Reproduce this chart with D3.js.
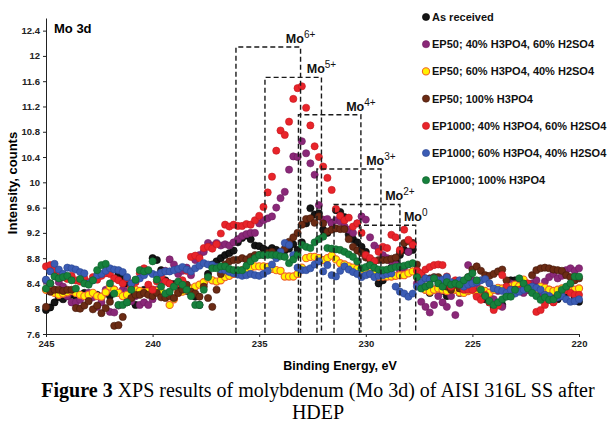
<!DOCTYPE html>
<html lang="en">
<head>
<meta charset="UTF-8">
<title>Mo 3d XPS</title>
<script src="https://cdn.jsdelivr.net/npm/d3@7"></script>
<style>
    body { margin: 0; background: #fff; }
    svg { display: block; font-family: "Liberation Sans", Arial, sans-serif; }
    .axis text { font-size: 9.5px; font-weight: bold; fill: #222; }
    .axis path, .axis line { stroke: #222; }
    .legend text { font-size: 11px; font-weight: bold; fill: #111; }
    .caption { font-family: "Liberation Serif", "Times New Roman", serif; font-size: 20px; fill: #000; }
</style>
</head>
<body>
<div id="chart"></div>
<script>
// spectra sampled every 0.2 eV from 245 eV down to 220 eV
const eStart = 245, eStep = 0.2;

const asReceived = [
    7.98, 8.02, 8.10, 8.18, 8.15, 8.20, 8.22, 8.20, 8.22, 8.25,
    8.24, 8.20, 8.22, 8.18, 8.25, 8.20, 8.30, 8.54, 8.50, 8.40,
    8.20, 8.06, 8.25, 8.30, 8.28, 8.80, 8.77, 8.61, 8.45, 8.40,
    8.39, 8.35, 8.30, 8.28, 8.25, 8.19, 8.06, 8.40, 8.55, 8.70,
    8.75, 8.80, 8.85, 8.88, 8.92, 9.05, 9.12, 9.16, 9.10, 9.00,
    8.99, 8.95, 8.92, 8.96, 8.93, 8.90, 8.92, 8.95, 9.02, 8.93,
    9.05, 9.35, 9.59, 9.49, 9.51, 9.25, 9.20, 9.36, 9.56, 9.53,
    9.45, 9.17, 9.10, 9.05, 8.98, 8.90, 8.70, 8.55, 8.40, 8.45,
    8.55, 8.65, 8.75, 8.85, 8.93, 8.90, 8.93, 8.60, 8.40, 8.30,
    8.25, 8.30, 8.35, 8.28, 8.20, 8.30, 8.35, 8.25, 8.30, 8.40,
    8.35, 8.30, 8.20, 8.15, 8.10, 8.02, 8.30, 8.06, 8.20, 8.45,
    8.45, 8.40, 8.35, 8.30, 8.38, 8.35, 8.30, 8.25, 8.30, 8.20,
    8.15, 8.20, 8.25, 8.30, 8.18, 8.11
];
const ep50_40_60 = [
    8.45, 8.40, 8.30, 8.42, 8.35, 8.20, 8.10, 8.10, 8.14, 8.20,
    8.25, 8.18, 8.03, 8.10, 8.30, 7.95, 7.94, 8.05, 8.30, 8.28,
    8.12, 8.20, 8.06, 8.10, 8.06, 8.15, 8.30, 8.45, 8.60, 8.78,
    8.70, 8.55, 8.60, 8.65, 8.53, 8.77, 8.85, 8.90, 9.04, 9.00,
    9.04, 9.00, 9.02, 9.00, 9.05, 9.10, 9.15, 9.18, 9.20, 9.20,
    9.35, 9.40, 9.43, 9.46, 9.60, 9.75, 9.85, 10.20, 10.41, 10.40,
    10.65, 10.46, 10.30, 10.12, 9.64, 9.41, 9.42, 9.35, 9.40, 9.38,
    9.30, 9.25, 9.20, 9.35, 9.46, 9.41, 9.13, 9.00, 8.95, 8.85,
    8.80, 8.75, 8.70, 8.60, 8.65, 8.90, 9.04, 8.40, 8.11, 8.03,
    7.94, 8.06, 8.20, 8.10, 8.03, 8.20, 7.90, 8.09, 8.40, 8.69,
    8.45, 8.38, 8.30, 8.25, 8.20, 8.15, 8.28, 8.03, 8.35, 8.40,
    8.30, 8.38, 8.25, 8.30, 8.40, 8.45, 8.24, 8.43, 8.50, 8.55,
    8.48, 8.52, 8.61, 8.64, 8.60, 8.64
];
const ep50_60_40 = [
    8.30, 8.28, 8.25, 8.22, 8.24, 8.26, 8.28, 8.25, 8.22, 8.20,
    8.22, 8.25, 8.20, 8.19, 8.26, 8.35, 8.30, 8.25, 8.20, 8.22,
    8.32, 8.30, 8.28, 8.26, 8.28, 8.30, 8.28, 8.27, 8.20, 8.06,
    8.15, 8.25, 8.27, 8.30, 8.32, 8.35, 8.38, 8.42, 8.48, 8.45,
    8.43, 8.45, 8.50, 8.52, 8.55, 8.58, 8.61, 8.62, 8.65, 8.67,
    8.67, 8.67, 8.66, 8.63, 8.61, 8.60, 8.51, 8.51, 8.51, 8.55,
    8.65, 8.80, 8.82, 8.82, 8.80, 8.77, 8.80, 8.84, 8.78, 8.72,
    8.70, 8.67, 8.65, 8.63, 8.61, 8.58, 8.56, 8.54, 8.51, 8.51,
    8.51, 8.51, 8.52, 8.53, 8.53, 8.56, 8.59, 8.50, 8.40, 8.30,
    8.27, 8.30, 8.32, 8.30, 8.28, 8.32, 8.30, 8.26, 8.25, 8.28,
    8.30, 8.22, 8.30, 8.28, 8.25, 8.30, 8.33, 8.32, 8.28, 8.35,
    8.38, 8.36, 8.46, 8.35, 8.32, 8.30, 8.35, 8.33, 8.30, 8.28,
    8.30, 8.32, 8.30, 8.28, 8.30, 8.32
];
const ep50_100 = [
    8.03, 8.27, 8.30, 8.30, 8.28, 8.30, 8.30, 8.01, 8.00, 8.05,
    8.12, 7.99, 8.05, 7.93, 8.01, 8.11, 7.73, 7.74, 7.87, 8.10,
    8.17, 8.22, 8.22, 8.25, 8.22, 8.20, 8.25, 8.18, 8.17, 8.20,
    8.17, 8.25, 8.30, 8.38, 8.27, 8.24, 8.19, 8.35, 8.17, 8.03,
    8.30, 8.55, 8.70, 8.75, 8.77, 8.77, 8.80, 8.78, 8.82, 8.85,
    8.85, 8.85, 8.88, 8.90, 8.82, 8.85, 8.95, 9.06, 9.13, 9.20,
    9.33, 9.42, 9.43, 9.36, 9.46, 9.35, 9.22, 9.25, 9.27, 9.26,
    9.26, 9.10, 8.98, 8.92, 8.88, 8.81, 8.78, 8.75, 8.77, 8.77,
    8.77, 8.79, 8.81, 8.90, 9.04, 9.07, 9.04, 8.70, 8.55, 8.48,
    8.48, 8.50, 8.50, 8.45, 8.35, 8.30, 8.38, 8.32, 8.40, 8.50,
    8.62, 8.67, 8.60, 8.53, 8.52, 8.55, 8.59, 8.62, 8.45, 8.30,
    8.30, 8.28, 8.35, 8.38, 8.53, 8.61, 8.64, 8.65, 8.64, 8.62,
    8.61, 8.60, 8.53, 8.50, 8.45, 8.48
];
const ep1000_40_60 = [
    8.67, 8.69, 8.62, 8.55, 8.50, 8.47, 8.52, 8.45, 8.43, 8.48,
    8.42, 8.50, 8.46, 8.52, 8.56, 8.55, 8.48, 8.45, 8.40, 8.48,
    8.35, 8.42, 8.56, 8.64, 8.38, 8.30, 8.43, 8.51, 8.43, 8.40,
    8.35, 8.40, 8.45, 8.60, 8.82, 8.84, 8.80, 8.96, 8.98, 8.95,
    9.02, 9.19, 9.33, 9.30, 9.33, 9.31, 9.31, 9.34, 9.33, 9.40,
    9.47, 9.61, 9.84, 10.09, 10.50, 10.82, 10.75, 10.96, 11.32, 11.49,
    11.52, 11.18, 10.90, 10.57, 10.40, 10.25, 10.07, 9.88, 9.58, 9.47,
    9.40, 9.44, 9.30, 9.35, 9.20, 8.85, 8.80, 8.75, 8.90, 8.98,
    8.96, 9.17, 9.13, 8.93, 9.25, 9.09, 9.01, 8.60, 8.56, 8.62,
    8.66, 8.69, 8.70, 8.69, 8.51, 8.35, 8.45, 8.38, 8.30, 8.30,
    8.30, 8.19, 8.14, 8.22, 8.10, 7.98, 8.05, 8.53, 8.35, 8.30,
    8.30, 8.30, 8.35, 8.40, 8.30, 7.95, 7.98, 8.06, 8.14, 8.10,
    8.20, 8.27, 8.30, 8.25, 8.22, 8.22
];
const ep1000_60_40 = [
    8.46, 8.59, 8.71, 8.62, 8.55, 8.65, 8.64, 8.62, 8.58, 8.56,
    8.40, 8.45, 8.53, 8.55, 8.60, 8.64, 8.62, 8.61, 8.58, 8.50,
    8.40, 8.45, 8.48, 8.53, 8.59, 8.55, 8.53, 8.57, 8.59, 8.59,
    8.61, 8.63, 8.66, 8.62, 8.59, 8.64, 8.68, 8.72, 8.70, 8.69,
    8.66, 8.62, 8.61, 8.58, 8.56, 8.54, 8.52, 8.53, 8.55, 8.53,
    8.52, 8.55, 8.60, 8.70, 8.80, 8.90, 9.04, 9.01, 8.85, 8.65,
    8.61, 8.61, 8.64, 8.70, 8.75, 8.59, 8.69, 8.53, 8.51, 8.60,
    8.67, 8.62, 8.58, 8.55, 8.50, 8.53, 8.55, 8.50, 8.52, 8.53,
    8.55, 8.56, 8.35, 8.27, 8.24, 8.19, 8.24, 8.35, 8.42, 8.48,
    8.46, 8.48, 8.45, 8.46, 8.50, 8.42, 8.40, 8.45, 8.35, 8.38,
    8.40, 8.42, 8.45, 8.47, 8.40, 8.32, 8.30, 8.28, 8.25, 8.30,
    8.24, 8.27, 8.30, 8.33, 8.35, 8.33, 8.30, 8.22, 8.20, 8.15,
    8.18, 8.20, 8.15, 8.11, 8.12, 8.15
];
const ep1000_100 = [
    8.32, 8.40, 8.51, 8.48, 8.50, 8.52, 8.45, 8.32, 8.47, 8.40,
    8.38, 8.45, 8.61, 8.69, 8.71, 8.40, 8.24, 8.06, 8.06, 8.10,
    8.30, 8.46, 8.61, 8.59, 8.61, 8.75, 8.46, 8.35, 8.24, 8.27,
    8.35, 8.43, 8.38, 8.30, 8.20, 8.06, 8.06, 8.30, 8.50, 8.64,
    8.64, 8.67, 8.67, 8.63, 8.61, 8.61, 8.61, 8.68, 8.75, 8.80,
    8.85, 8.85, 8.85, 8.85, 8.85, 8.83, 8.82, 8.72, 8.78, 8.85,
    9.01, 8.98, 8.96, 9.05, 9.10, 9.14, 8.96, 8.95, 8.94, 8.93,
    8.90, 8.86, 8.82, 8.75, 8.64, 8.66, 8.69, 8.65, 8.62, 8.61,
    8.62, 8.64, 8.66, 8.67, 8.68, 8.70, 8.72, 8.50, 8.32, 8.35,
    8.38, 8.48, 8.40, 8.35, 8.42, 8.38, 8.40, 8.38, 8.45, 8.50,
    8.56, 8.45, 8.30, 8.20, 8.12, 8.06, 8.10, 8.15, 8.19, 8.19,
    8.30, 8.48, 8.40, 8.32, 8.25, 8.20, 8.14, 8.18, 8.14, 8.15,
    8.22, 8.30, 8.35, 8.40, 8.51, 8.51
];

const seriesNames = [
    "As received",
    "EP50; 40% H3PO4, 60% H2SO4",
    "EP50; 60% H3PO4, 40% H2SO4",
    "EP50; 100% H3PO4",
    "EP1000; 40% H3PO4, 60% H2SO4",
    "EP1000; 60% H3PO4, 40% H2SO4",
    "EP1000; 100% H3PO4"
];
const seriesValues = [asReceived, ep50_40_60, ep50_60_40, ep50_100, ep1000_40_60, ep1000_60_40, ep1000_100];
const fills = ["#151515", "#8a2878", "#fff200", "#6b2b14", "#e8242a", "#3b5cb4", "#16803c"];
const strokes = ["#000000", "#6e1d5f", "#f0642a", "#43180a", "#c4161c", "#2a4590", "#0d5f2b"];

// oxidation state windows (eV) and the height of each dashed box
const states = ["6+", "5+", "4+", "3+", "2+", "0"];
const boxLeft = [236.09, 234.73, 233.16, 232.29, 231.49, 230.30];
const boxRight = [233.06, 232.08, 230.23, 229.29, 228.40, 227.66];
const boxTop = [12.14, 11.66, 11.07, 10.21, 9.65, 9.32];

const xTicks = [245, 240, 235, 230, 225, 220];
const yTicks = [7.6, 8, 8.4, 8.8, 9.2, 9.6, 10, 10.4, 10.8, 11.2, 11.6, 12, 12.4];

const width = 611, height = 423;
const svg = d3.select("#chart").append("svg")
    .attr("width", width)
    .attr("height", height);

const x = d3.scaleLinear().domain([245, 220]).range([46, 579]);
const y = d3.scaleLinear().domain([7.6, 12.6]).range([334, 18]);

svg.append("g")
    .attr("class", "axis")
    .attr("transform", "translate(0,334)")
    .call(d3.axisBottom(x).tickValues(xTicks).tickSize(3).tickSizeOuter(0).tickPadding(3).tickFormat(d => d));

svg.append("g")
    .attr("class", "axis")
    .attr("transform", "translate(46,0)")
    .call(d3.axisLeft(y).tickValues(yTicks).tickSize(3).tickSizeOuter(0).tickPadding(3).tickFormat(d => d));

// points
seriesValues.forEach((vals, k) => {
    svg.append("g")
        .selectAll("circle")
        .data(vals)
        .join("circle")
        .attr("cx", (d, i) => x(eStart - i * eStep))
        .attr("cy", d => y(d))
        .attr("r", 3.6)
        .attr("fill", fills[k])
        .attr("stroke", strokes[k])
        .attr("stroke-width", k === 2 ? 1.1 : 0.6);
});

// dashed boxes for each Mo state
const boxes = svg.append("g");
states.forEach((s, k) => {
    const x0 = x(boxLeft[k]), x1 = x(boxRight[k]), yt = y(boxTop[k]), yb = y(7.62);
    boxes.append("path")
        .attr("d", `M${x0},${yb}V${yt}H${x1}V${yb}`)
        .attr("fill", "none")
        .attr("stroke", "#1a1a1a")
        .attr("stroke-width", 1.4)
        .attr("stroke-dasharray", "5,3");
    const lbl = boxes.append("text")
        .attr("x", x1)
        .attr("y", yt - 4)
        .attr("text-anchor", "middle")
        .attr("fill", "#111");
    lbl.append("tspan").attr("font-size", 12.5).attr("font-weight", "bold").text("Mo");
    lbl.append("tspan").attr("font-size", 10).attr("dy", -5).text(s);
});

svg.append("text")
    .attr("x", 54).attr("y", 33)
    .attr("font-size", 13).attr("font-weight", "bold")
    .text("Mo 3d");

// legend
const legend = svg.append("g").attr("class", "legend");
seriesNames.forEach((name, k) => {
    const ly = 17 + k * 27.2;
    legend.append("circle")
        .attr("cx", 426).attr("cy", ly).attr("r", 3.6)
        .attr("fill", fills[k]).attr("stroke", strokes[k])
        .attr("stroke-width", k === 2 ? 1.1 : 0.6);
    legend.append("text")
        .attr("x", 432).attr("y", ly + 4)
        .text(name);
});

// axis titles
svg.append("text")
    .attr("x", 340).attr("y", 370)
    .attr("text-anchor", "middle")
    .attr("font-size", 12.5).attr("font-weight", "bold")
    .text("Binding Energy, eV");

svg.append("text")
    .attr("transform", "translate(17,183) rotate(-90)")
    .attr("text-anchor", "middle")
    .attr("font-size", 13).attr("font-weight", "bold")
    .text("Intensity, counts");

// caption
const cap = svg.append("text")
    .attr("class", "caption")
    .attr("x", 318).attr("y", 396.5)
    .attr("text-anchor", "middle");
cap.append("tspan").attr("font-weight", "bold").text("Figure 3");
cap.append("tspan").text(" XPS results of molybdenum (Mo 3d) of AISI 316L SS after");
svg.append("text")
    .attr("class", "caption")
    .attr("x", 318).attr("y", 418.6)
    .attr("text-anchor", "middle")
    .text("HDEP");
</script>
</body>
</html>
